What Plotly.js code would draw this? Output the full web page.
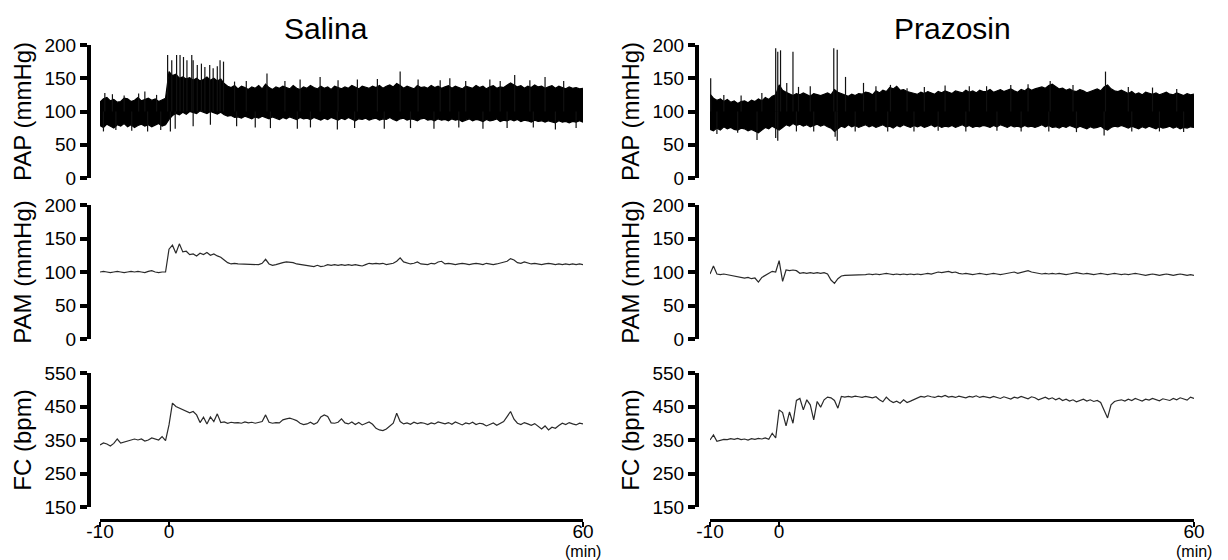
<!DOCTYPE html>
<html><head><meta charset="utf-8">
<script src="https://cdn.plot.ly/plotly-3.0.1.min.js"></script>
<style>html,body{margin:0;padding:0;background:#fff}#chart{width:1228px;height:560px}</style>
</head><body><div id="chart"></div>
<script>
// ---------- text ----------
const panelTitles = ['Salina', 'Prazosin'];
const rowTitles = ['PAP (mmHg)', 'PAM (mmHg)', 'FC (bpm)'];
const xTickVals = [-10, 0, 60];
const xTickText = ['-10', '0', '60'];
const xUnit = '(min)';
const pressureTicks = [0, 50, 100, 150, 200];
const fcTicks = [150, 250, 350, 450, 550];

// ---------- sampling grid (minutes, every 0.5 min) ----------
const halfMinutes = []; for (let i = 0; i <= 140; i++) halfMinutes.push(-10 + i * 0.5);

// ---------- PAP (pulsatile pressure) band envelopes ----------
const salinaPapUpper = [
  114,119,121,116,118,114,115,120,119,115,117,121,116,118,120,117,119,115,117,120,
  160,154,156,150,152,149,151,147,150,146,148,152,147,150,146,149,142,138,136,139,
  134,138,136,133,137,135,139,134,141,136,133,137,135,138,136,134,139,135,133,137,
  135,139,136,134,138,135,137,133,138,136,134,137,135,139,136,134,138,137,135,138,
  136,139,135,138,140,137,142,139,135,138,136,134,139,136,137,135,139,136,138,135,
  137,139,135,138,136,134,138,137,135,139,136,138,134,137,139,135,137,136,140,143,
  140,137,139,135,138,136,140,137,138,135,137,139,135,138,136,134,137,135,136,134,
  135];
const salinaPapLower = [
  79,76,81,78,75,80,78,82,77,80,76,79,81,78,80,77,79,82,78,80,
  88,94,97,95,99,96,100,98,97,101,99,97,100,98,96,99,95,93,94,91,
  92,90,93,91,89,92,90,93,91,89,92,90,88,91,89,92,90,88,91,89,
  90,88,91,89,87,90,88,91,89,87,90,88,91,89,86,89,88,90,87,89,
  90,87,89,88,91,88,86,89,90,87,89,88,86,89,90,87,88,86,89,87,
  88,86,89,87,88,85,87,89,86,88,87,85,88,86,87,89,85,87,86,88,
  86,88,85,87,86,84,87,85,86,84,86,85,83,86,84,85,83,85,84,86,
  84];
const prazosinPapUpper = [
  126,120,117,119,115,118,114,116,112,115,116,113,117,115,119,116,121,118,123,125,
  140,132,129,126,124,127,125,128,126,123,127,125,124,126,128,125,133,129,127,124,
  123,126,124,127,126,129,128,125,131,128,132,130,136,134,138,132,133,130,129,127,
  126,129,127,130,128,126,130,128,131,129,127,131,130,128,132,129,131,128,132,130,
  130,133,129,131,133,130,132,134,131,129,133,131,135,132,134,136,137,135,139,141,
  137,134,135,132,134,131,130,133,131,128,130,132,134,131,137,140,134,131,130,132,
  129,127,130,126,128,125,129,127,126,128,125,127,129,126,125,128,126,124,127,125,
  126];
const prazosinPapLower = [
  73,71,75,72,77,74,76,73,72,75,74,71,73,70,68,72,76,74,78,75,
  72,76,80,78,82,79,81,78,80,77,79,81,78,80,77,75,70,74,78,76,
  80,77,79,76,78,80,77,79,76,78,80,77,78,75,79,77,80,78,76,79,
  77,79,76,78,80,77,79,76,78,77,79,76,78,80,77,79,76,78,77,79,
  78,76,79,77,80,78,76,79,77,78,76,79,77,78,76,78,80,77,79,76,
  77,75,78,76,79,77,75,78,76,74,77,75,76,78,74,72,76,78,77,79,
  77,75,78,76,74,77,75,78,76,74,77,75,76,78,75,77,74,76,75,77,
  76];

// ---------- PAP spikes (time in min, peak value) ----------
const salinaSpikeUpT = [-9.3,-8.2,-6.5,-4.4,-3.5,-1.8,-0.2,0.4,1.1,1.6,2.1,2.6,3.3,3.5,4.1,4.7,5.2,5.9,6.4,7.0,7.4,7.9,9.5,11.2,14.2,16.8,19.0,21.9,24.5,27.3,30.2,33.5,36.1,39.3,40.7,43.0,46.5,48.0,50.1,52.3,54.5,57.2];
const salinaSpikeUpV = [128,126,124,127,130,125,185,177,185,185,182,177,185,177,170,172,167,170,165,168,177,175,145,146,157,146,148,152,147,148,149,160,148,147,150,146,148,146,155,147,152,146];
const salinaSpikeDnT = [-9.5,-7.7,-5.4,-3.1,-1.2,0.2,0.9,3.5,6.0,9.8,12.5,14.7,18.6,20.5,24.4,26.9,31.2,35.0,38.4,42.0,45.5,49.0,52.8,56.0,59.0];
const salinaSpikeDnV = [70,72,71,70,72,70,74,78,80,78,76,75,74,76,73,75,74,75,74,76,74,75,76,73,75];
const prazosinSpikeUpT = [-9.9,-8.0,-5.5,-2.5,-0.5,-0.2,0.2,1.1,2.0,2.8,4.5,7.9,8.4,9.6,12.2,14.0,16.1,18.5,21.0,24.0,27.5,30.0,33.5,36.0,39.2,42.5,47.2,50.5,54.0,57.5];
const prazosinSpikeUpV = [150,125,124,128,195,190,192,143,190,137,138,195,193,152,143,138,140,135,137,139,138,138,140,141,146,140,160,137,136,134];
const prazosinSpikeDnT = [-9.0,-6.0,-3.2,-0.5,-0.2,2.5,5.0,8.1,8.4,11.0,15.7,19.5,23.0,27.0,31.5,35.0,39.0,43.0,47.0,51.0,55.0,58.5];
const prazosinSpikeDnV = [66,68,57,60,56,70,70,62,56,70,70,70,71,70,71,70,70,69,64,70,70,69];

// ---------- PAM (mean pressure) ----------
const salinaPam = [
  100,101,100,99,100,101,100,99,100,101,100,101,100,99,101,102,100,99,100,100,
  134,140,128,142,130,131,126,127,124,128,126,129,125,127,124,122,118,114,112,113,
  112,112,111,112,111,112,111,113,119,112,110,111,113,114,115,115,114,112,111,110,
  110,109,108,110,108,109,111,110,111,110,111,110,111,110,111,110,109,111,113,112,
  113,112,113,111,112,113,116,121,115,113,112,113,115,112,112,111,113,112,115,116,
  112,113,112,111,112,113,112,111,112,113,112,111,113,112,111,112,113,114,116,120,
  118,114,113,115,113,112,113,112,111,112,113,112,111,112,111,112,111,112,111,112,
  111];
const prazosinPam = [
  97,109,97,96,97,96,95,94,93,92,91,92,90,91,85,92,95,99,101,100,
  117,86,103,102,103,102,98,99,98,99,98,99,98,99,97,88,83,90,94,95,
  95,96,95,96,95,96,97,96,97,96,97,98,97,96,97,96,97,96,97,96,
  97,96,97,98,97,98,100,99,100,101,99,100,98,97,98,97,96,97,98,97,
  96,97,98,97,96,97,98,99,100,98,99,101,102,100,99,98,97,98,97,98,
  97,98,97,96,97,98,99,98,97,98,97,96,97,98,97,96,97,98,97,96,
  97,96,97,98,97,96,95,96,97,96,95,96,97,96,95,96,97,96,95,96,
  95];

// ---------- FC (heart rate) ----------
const salinaFc = [
  335,341,338,332,340,353,341,344,345,348,353,350,353,347,350,356,352,350,360,348,
  395,460,450,445,440,434,431,435,425,402,418,398,419,405,428,402,404,400,403,401,
  402,400,404,401,403,400,402,405,425,403,400,402,401,410,413,415,412,408,400,396,
  398,403,397,402,419,425,420,401,400,403,413,401,398,404,396,402,395,400,404,397,
  385,380,378,383,392,400,430,405,398,401,397,403,399,402,400,396,401,398,404,400,
  398,402,397,404,399,395,401,398,403,396,400,398,392,396,401,394,399,405,420,435,
  412,400,396,402,398,394,399,390,383,392,380,388,385,393,400,396,402,398,395,400,
  398];
const prazosinFc = [
  350,365,346,350,352,351,354,352,355,351,353,350,354,352,355,353,356,352,370,356,
  440,432,392,434,400,468,474,440,470,455,410,465,448,470,478,476,468,445,480,478,
  480,478,481,479,477,480,478,476,479,470,464,478,468,462,466,460,470,462,466,471,
  476,480,478,482,479,477,481,479,483,478,480,477,481,479,476,480,478,482,477,480,
  478,476,480,477,474,479,476,472,478,475,480,477,473,479,476,470,474,478,472,476,
  470,475,468,472,466,470,464,468,472,466,470,465,468,462,440,416,455,465,468,470,
  466,472,468,474,470,466,472,469,474,470,467,473,471,468,474,470,476,472,469,478,
  474];

// ---------- layout geometry (pixels in the 1228x560 page) ----------
const W = 1228, H = 560;
const fx = v => v / W;
const fy = v => 1 - v / H;
const rows = [{top: 45, bottom: 178}, {top: 205, bottom: 339}, {top: 373, bottom: 507}];
const cols = [{left: 100, right: 583, axis: 89, titleX: 326},
              {left: 710, right: 1194, axis: 697, titleX: 952}];
const FONT = 'Liberation Sans, Arial, Helvetica, sans-serif';
const bandBase = 100;

function spikes(ts, vs, base) {
  const x = [], y = [];
  ts.forEach((t, i) => { x.push(t, t, null); y.push(base, vs[i], null); });
  return {x, y};
}

const colData = [
  {up: salinaPapUpper, lo: salinaPapLower, sUpT: salinaSpikeUpT, sUpV: salinaSpikeUpV,
   sDnT: salinaSpikeDnT, sDnV: salinaSpikeDnV, pam: salinaPam, fc: salinaFc},
  {up: prazosinPapUpper, lo: prazosinPapLower, sUpT: prazosinSpikeUpT, sUpV: prazosinSpikeUpV,
   sDnT: prazosinSpikeDnT, sDnV: prazosinSpikeDnV, pam: prazosinPam, fc: prazosinFc}
];

const traces = [];
const layout = {
  width: W, height: H,
  margin: {l: 0, r: 0, t: 0, b: 0},
  paper_bgcolor: '#fff', plot_bgcolor: 'rgba(0,0,0,0)',
  showlegend: false,
  font: {family: FONT, color: '#000', size: 19},
  annotations: []
};

colData.forEach((d, c) => {
  const xName = c === 0 ? 'x' : 'x2';
  const xKey = c === 0 ? 'xaxis' : 'xaxis2';
  const yNames = [1, 2, 3].map(r => 'y' + (c * 3 + r === 1 ? '' : c * 3 + r));

  // PAP band
  traces.push({x: halfMinutes, y: d.lo, xaxis: xName, yaxis: yNames[0], mode: 'lines',
    line: {color: '#000', width: 1.2}, hoverinfo: 'skip'});
  traces.push({x: halfMinutes, y: d.up, xaxis: xName, yaxis: yNames[0], mode: 'lines',
    fill: 'tonexty', fillcolor: '#000', line: {color: '#000', width: 1.2}, hoverinfo: 'skip'});
  const su = spikes(d.sUpT, d.sUpV, bandBase);
  traces.push({x: su.x, y: su.y, xaxis: xName, yaxis: yNames[0], mode: 'lines',
    line: {color: '#111', width: 1.2}, connectgaps: false, hoverinfo: 'skip'});
  const sd = spikes(d.sDnT, d.sDnV, bandBase);
  traces.push({x: sd.x, y: sd.y, xaxis: xName, yaxis: yNames[0], mode: 'lines',
    line: {color: '#111', width: 1.2}, connectgaps: false, hoverinfo: 'skip'});
  // PAM
  traces.push({x: halfMinutes, y: d.pam, xaxis: xName, yaxis: yNames[1], mode: 'lines',
    line: {color: '#2a2a2a', width: 1.2}});
  // FC
  traces.push({x: halfMinutes, y: d.fc, xaxis: xName, yaxis: yNames[2], mode: 'lines',
    line: {color: '#2a2a2a', width: 1.2}});

  // x axis (only drawn at the bottom)
  layout[xKey] = {
    domain: [fx(cols[c].left), fx(cols[c].right)],
    anchor: 'free', position: fy(520),
    range: [-10, 60], tickmode: 'array', tickvals: xTickVals, ticktext: xTickText,
    showline: true, linecolor: '#000', linewidth: 2.5,
    ticks: 'outside', ticklen: 5, tickwidth: 2.5, tickcolor: '#000',
    ticklabelstandoff: -11,
    showgrid: false, zeroline: false, fixedrange: true,
    tickfont: {family: FONT, size: 19, color: '#000'}
  };

  // y axes
  [0, 1, 2].forEach(r => {
    const key = 'yaxis' + (c * 3 + r + 1 === 1 ? '' : c * 3 + r + 1);
    const isFc = r === 2;
    layout[key] = {
      domain: [fy(rows[r].bottom), fy(rows[r].top)],
      anchor: 'free', position: fx(cols[c].axis),
      range: isFc ? [150, 550] : [0, 200],
      tickmode: 'array', tickvals: isFc ? fcTicks : pressureTicks,
      showline: true, linecolor: '#000', linewidth: 4,
      ticks: 'outside', ticklen: 7, tickwidth: 4, tickcolor: '#000',
      showgrid: false, zeroline: false, fixedrange: true,
      tickfont: {family: FONT, size: 19, color: '#000'},
      title: {text: rowTitles[r], font: {family: FONT, size: 24, color: '#000'}, standoff: 5}
    };
  });

  // panel title
  layout.annotations.push({text: panelTitles[c], xref: 'paper', yref: 'paper',
    x: fx(cols[c].titleX), y: fy(28), xanchor: 'center', yanchor: 'middle',
    showarrow: false, font: {family: FONT, size: 30, color: '#000'}});
  // unit under the last x tick
  layout.annotations.push({text: xUnit, xref: xName, yref: 'paper',
    x: xTickVals[xTickVals.length - 1], y: fy(542), xanchor: 'center', yanchor: 'top',
    borderpad: 0, showarrow: false, font: {family: FONT, size: 16, color: '#000'}});
});

Plotly.newPlot('chart', traces, layout, {displayModeBar: false, staticPlot: true});
</script>
</body></html>
